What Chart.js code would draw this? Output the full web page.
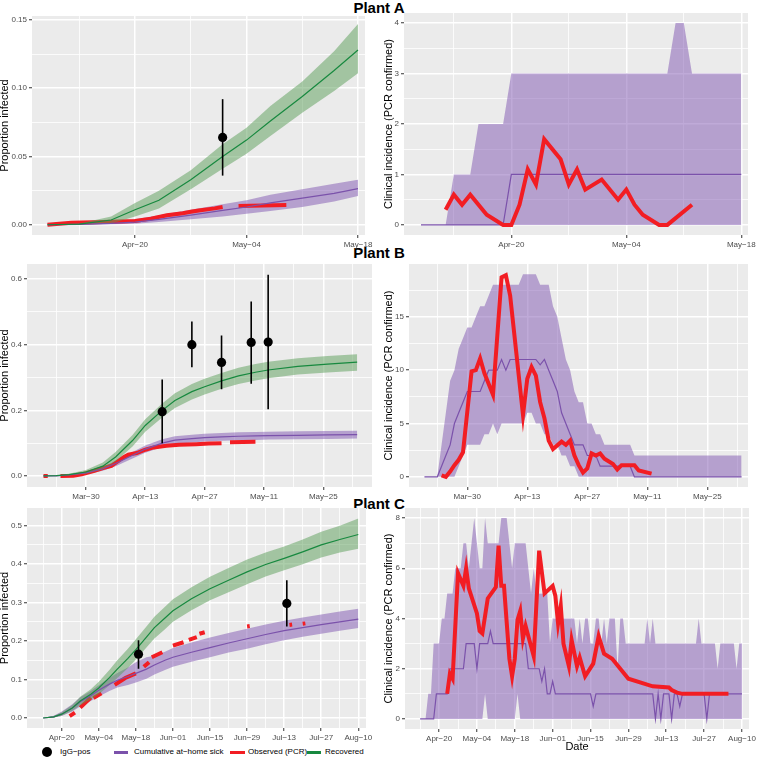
<!DOCTYPE html>
<html>
<head>
<meta charset="utf-8">
<script src="https://cdn.jsdelivr.net/npm/chart.js@4.4.1/dist/chart.umd.min.js"></script>
<style>
body { margin: 0; background: #fff; }
#fig { position: relative; width: 758px; height: 759px; font-family: "Liberation Sans", Arial, sans-serif; overflow: hidden; }
#fig canvas { position: absolute; }
.ptitle { position: absolute; left: 0; width: 758px; text-align: center; font-weight: bold; font-size: 15px; line-height: 15px; }
.lgt { position: absolute; top: 747px; height: 10px; line-height: 10px; font-size: 8px; color: #000; white-space: nowrap; }
.lgk { position: absolute; height: 3px; top: 751px; }
</style>
</head>
<body>
<div id="fig">
  <div class="ptitle" style="top:0px">Plant A</div>
  <div class="ptitle" style="top:245px">Plant B</div>
  <div class="ptitle" style="top:496px">Plant C</div>
  <canvas id="aCum"></canvas>
  <canvas id="aInc"></canvas>
  <canvas id="bCum"></canvas>
  <canvas id="bInc"></canvas>
  <canvas id="cCum"></canvas>
  <canvas id="cInc"></canvas>
  <div style="position:absolute;left:42px;top:747px;width:10px;height:10px;border-radius:50%;background:#000"></div>
  <div class="lgt" style="left:60px">IgG−pos</div>
  <div class="lgk" style="left:114px;width:14px;background:#7B52AB"></div>
  <div class="lgt" style="left:134px">Cumulative at−home sick</div>
  <div class="lgk" style="left:230px;width:15px;background:#F21D23"></div>
  <div class="lgt" style="left:248px">Observed (PCR)</div>
  <div class="lgk" style="left:307px;width:14px;background:#17893F"></div>
  <div class="lgt" style="left:325px">Recovered</div>
</div>
<script>
// ---------- Plant A ----------
const aCumDates = ['Apr-09','Apr-13','Apr-17','Apr-20','Apr-23','Apr-27','May-01','May-04','May-07','May-11','May-15','May-18'];
const aRecMed  = [0,0.0005,0.0035,0.011,0.018,0.033,0.050,0.062,0.076,0.094,0.113,0.128];
const aRecLo   = [0,0,0.001,0.006,0.012,0.026,0.041,0.052,0.065,0.082,0.098,0.111];
const aRecHi   = [0,0.001,0.006,0.016,0.025,0.040,0.059,0.071,0.087,0.105,0.127,0.147];
const aSickMed = [0,0.0003,0.001,0.002,0.004,0.007,0.0105,0.013,0.016,0.0195,0.023,0.0265];
const aSickLo  = [0,0,0.0003,0.0008,0.002,0.004,0.006,0.008,0.010,0.013,0.017,0.021];
const aSickHi  = [0,0.0005,0.002,0.004,0.007,0.011,0.015,0.018,0.022,0.026,0.030,0.033];
const aObsDates = ['Apr-09','Apr-12','Apr-16','Apr-20','Apr-22','Apr-24','Apr-26','Apr-27','Apr-28','Apr-30','May-01','May-02','May-03','May-09'];
const aObs      = [0,0.0015,0.002,0.0027,0.0045,0.007,0.0085,0.0095,0.0105,0.012,0.013,null,0.0137,0.0144];
const aIggDates = ['May-01'];
const aIgg = [0.064], aIggLo = [0.036], aIggHi = [0.092];

const aIncStart = 'Apr-09';
const aIncHi  = [0,0,0,0,1,1,1,2,2,2,2,3,3,3,3,3,3,3,3,3,3,3,3,3,3,3,3,3,3,3,3,4,4,3,3,3,3,3,3,3];
const aIncLo  = [0,0,0,0,0,0,0,0,0,0,0,0,0,0,0,0,0,0,0,0,0,0,0,0,0,0,0,0,0,0,0,0,0,0,0,0,0,0,0,0];
const aIncMed = [0,0,0,0,0,0,0,0,0,0,0,1,1,1,1,1,1,1,1,1,1,1,1,1,1,1,1,1,1,1,1,1,1,1,1,1,1,1,1,1];
const aPcrDates = ['Apr-12','Apr-13','Apr-14','Apr-15','Apr-17','Apr-19','Apr-20','Apr-21','Apr-22','Apr-23','Apr-24','Apr-26','Apr-27','Apr-28','Apr-29','May-01','May-03','May-04','May-05','May-06','May-08','May-09','May-12'];
const aPcr      = [0.3,0.6,0.4,0.6,0.2,0,0,0.4,1.1,0.8,1.7,1.3,0.8,1.1,0.7,0.9,0.5,0.7,0.4,0.2,0,0,0.4];

// ---------- Plant B ----------
const bCumDates = ['Mar-20','Mar-23','Mar-26','Mar-30','Apr-03','Apr-06','Apr-10','Apr-13','Apr-17','Apr-20','Apr-24','Apr-27','May-01','May-05','May-09','May-12','May-19','May-26','Jun-02'];
const bRecMed  = [0,0.001,0.004,0.012,0.030,0.058,0.108,0.154,0.200,0.230,0.257,0.272,0.290,0.305,0.316,0.323,0.334,0.341,0.347];
const bRecHi   = [0,0.002,0.007,0.018,0.041,0.073,0.125,0.173,0.221,0.252,0.280,0.296,0.314,0.330,0.341,0.348,0.359,0.366,0.371];
const bRecLo   = [0,0.0005,0.002,0.007,0.020,0.044,0.090,0.135,0.178,0.207,0.233,0.248,0.266,0.280,0.291,0.298,0.309,0.315,0.321];
const bSickMed = [0,0.0005,0.003,0.009,0.022,0.038,0.063,0.082,0.100,0.109,0.114,0.117,0.119,0.121,0.122,0.123,0.124,0.125,0.126];
const bSickHi  = [0,0.001,0.005,0.013,0.028,0.046,0.073,0.093,0.112,0.121,0.126,0.129,0.131,0.133,0.134,0.135,0.136,0.137,0.138];
const bSickLo  = [0,0,0.001,0.005,0.016,0.030,0.053,0.071,0.088,0.097,0.102,0.105,0.107,0.109,0.110,0.111,0.112,0.113,0.114];
const bObsDates = ['Mar-20','Mar-21','Mar-22','Mar-24','Mar-27','Mar-29','Apr-01','Apr-03','Apr-05','Apr-06','Apr-08','Apr-09','Apr-11','Apr-13','Apr-15','Apr-18','Apr-21','Apr-25','Apr-28','May-01','May-02','May-03','May-09'];
const bObs      = [0,0,null,0,0.001,0.005,0.016,0.024,0.031,0.040,0.058,0.065,0.070,0.080,0.087,0.092,0.095,0.097,0.099,0.100,null,0.103,0.104];
const bIggDates = ['Apr-17','Apr-24','May-01','May-08','May-12'];
const bIgg   = [0.196,0.400,0.346,0.407,0.408];
const bIggLo = [0.100,0.331,0.264,0.281,0.203];
const bIggHi = [0.294,0.471,0.428,0.532,0.613];

const bIncStart = 'Mar-20';
const bIncHi = [0,0,0,0,3,6,9,10,12,13,14,14,
  15,16,16,17,18,18,18,18,18,18,18,19,19,19,19,18,18,18,16,15,13,11,10,8,7,7,5,5,4,4,
  3,3,3,3,3,3,3,2,2,2,2,2,2,2,2,2,2,2,2,2,2,2,2,2,2,2,2,2,2,2,2,
  2,2];
const bIncLo = [0,0,0,0,0,0,0,0,1,2,3,3,
  3,3,4,4,5,4,5,5,5,5,5,5,6,6,5,5,4,4,3,3,2,2,1,1,0,0,0,0,0,0,
  0,0,0,0,0,0,0,0,0,0,0,0,0,0,0,0,0,0,0,0,0,0,0,0,0,0,0,0,0,0,0,
  0,0];
const bIncMed = [0,0,0,0,1,2,3,5,6,7,8,8,
  8,8,9,10,10,10,11,10,11,11,11,11,11,11,11,10.5,11,10,9,8,6,5,4,3,3,3,2,2,2,1,
  1,1,1,1,1,1,1,0,0,0,0,0,0,0,0,0,0,0,0,0,0,0,0,0,0,0,0,0,0,0,0,
  0,0];
const bPcrDates = ['Mar-24','Mar-25','Mar-26','Mar-27','Mar-28','Mar-29','Mar-31','Apr-01','Apr-02','Apr-03','Apr-05','Apr-07','Apr-08','Apr-09','Apr-12','Apr-13','Apr-14','Apr-15','Apr-16','Apr-17','Apr-18','Apr-19','Apr-21','Apr-22','Apr-23','Apr-24','Apr-25','Apr-26','Apr-27','Apr-28','Apr-29','Apr-30','May-01','May-03','May-04','May-05','May-08','May-09','May-12'];
const bPcr      = [0.15,0,0.5,1.1,1.6,2.3,9.9,10.0,11.1,9.7,7.7,18.7,18.9,17.0,5.8,9.2,10.3,9.5,7.0,5.5,3.4,2.6,3.3,3.0,3.4,2.0,1.1,0.4,0.8,2.2,2.0,2.2,1.7,1.2,0.7,1.1,1.1,0.6,0.3];

// ---------- Plant C ----------
const cCumDates = ['Apr-13','Apr-17','Apr-20','Apr-24','Apr-27','May-01','May-04','May-08','May-11','May-15','May-18','May-22','May-25','May-29','Jun-01','Jun-08','Jun-15','Jun-22','Jun-29','Jul-06','Jul-13','Jul-20','Jul-27','Aug-03','Aug-10'];
const cRecMed  = [0,0.003,0.010,0.026,0.044,0.062,0.078,0.105,0.127,0.155,0.178,0.210,0.235,0.260,0.279,0.310,0.336,0.358,0.380,0.399,0.415,0.432,0.450,0.464,0.477];
const cRecHi   = [0,0.005,0.015,0.034,0.055,0.075,0.094,0.125,0.150,0.180,0.205,0.238,0.263,0.289,0.309,0.340,0.367,0.390,0.412,0.430,0.446,0.464,0.484,0.500,0.519];
const cRecLo   = [0,0.001,0.006,0.019,0.033,0.049,0.062,0.085,0.104,0.130,0.152,0.183,0.207,0.231,0.250,0.280,0.306,0.327,0.348,0.368,0.384,0.400,0.417,0.430,0.440];
const cSickMed = [0,0.003,0.010,0.026,0.042,0.058,0.072,0.088,0.098,0.108,0.116,0.127,0.138,0.150,0.158,0.171,0.183,0.195,0.206,0.217,0.227,0.235,0.243,0.250,0.257];
const cSickHi  = [0,0.006,0.017,0.036,0.054,0.070,0.085,0.104,0.117,0.131,0.145,0.158,0.162,0.172,0.182,0.196,0.209,0.221,0.232,0.243,0.253,0.261,0.269,0.277,0.284];
const cSickLo  = [0,0.001,0.005,0.017,0.030,0.044,0.056,0.070,0.079,0.086,0.092,0.102,0.113,0.125,0.133,0.146,0.158,0.170,0.180,0.192,0.202,0.211,0.219,0.227,0.234];
const cObsDates = ['Apr-23','Apr-25','Apr-26','Apr-27','Apr-29','May-01','May-01','May-02','May-05','May-07','May-10','May-14','May-18','May-19','May-21','May-23','May-23','May-24','May-28','May-30','Jun-01','Jun-05','Jun-06','Jun-07','Jun-10','Jun-10','Jun-11','Jun-13','Jun-20','Jun-29','Jun-30','Jul-10','Jul-15','Jul-16','Jul-18','Jul-20','Jul-21'];
const cObs      = [0.005,0.014,null,0.027,0.040,0.053,null,0.052,0.064,null,0.086,0.104,0.116,null,0.133,0.145,null,0.158,0.171,null,0.188,0.197,null,0.203,0.210,null,0.219,0.223,null,0.238,0.239,null,0.242,0.243,null,0.245,0.246];
const cIggDates = ['May-19','Jul-14'];
const cIgg = [0.166,0.298], cIggLo = [0.128,0.238], cIggHi = [0.202,0.358];

const cIncStart = 'Apr-13';
const cIncHi = [0,0,0,1,1,3,3,3,4,4,5,5,5,6,6,6,7,7,
  6,7,8,7,6,6,8,7,7,7,7,7,8,8,8,7,6,7,7,7,7,7,6,5,6,5,5,5,5,5,3,
  4,4,4,4,4,4,4,4,4,3,4,3,4,4,3,3,4,4,3,4,3,4,4,4,2,4,4,3,3,3,
  3,3,3,3,3,4,3,4,3,3,3,3,3,3,3,3,3,3,3,3,3,3,3,3,4,3,3,3,3,3,3,
  2,3,3,3,3,3,3,2,3,3];
const cIncLo = [0,0,0,0,0,0,0,0,0,0,0,0,0,0,0,0,0,0,
  0,0,0,0,0,0,1,0,0,0,0,0,0,0,0,0,0,0,1,0,0,0,0,0,0,0,0,0,0,0,0,
  0,0,0,0,0,0,0,0,0,0,0,0,0,0,0,0,0,0,0,0,0,0,0,0,0,0,0,0,0,0,
  0,0,0,0,0,0,0,0,0,0,0,0,0,0,0,0,0,0,0,0,0,0,0,0,0,0,0,0,0,0,0,
  0,0,0,0,0,0,0,0,0,0];
const cIncMed = [0,0,0,0,0,0,1,1,1,1,1,2,2,2,2,2,2,3,
  3,3,3,2,3,3,3,3,3.5,3,3,3,3,3,3,3,3,3,3,3,3,3,2,2,2,2,2,1.5,2,1,1,
  1.5,1,1,1,1,1,1,1,1,1,1,1,1,1,1,0.5,1,1,1,1,1,1,1,1,1,1,1,1,1,1,
  1,1,1,1,1,1,1,1,0,1,0,1,1,1,0,1,1,0.5,1,1,1,1,1,1,1,1,1,0,1,1,1,
  1,1,1,1,1,1,1,1,1,1];
const cPcrDates = ['Apr-23','Apr-24','Apr-25','Apr-27','Apr-29','Apr-30','May-01','May-04','May-05','May-06','May-08','May-11','May-12','May-13','May-14','May-16','May-17','May-18','May-19','May-20','May-21','May-22','May-25','May-27','May-29','Jun-01','Jun-02','Jun-03','Jun-04','Jun-05','Jun-07','Jun-08','Jun-10','Jun-11','Jun-13','Jun-16','Jun-18','Jun-20','Jun-23','Jun-29','Jul-08','Jul-14','Jul-15','Jul-17','Jul-19','Aug-05'];
const cPcr      = [1.0,1.8,1.6,5.8,5.3,6.0,5.2,4.2,3.5,3.4,4.8,5.25,6.9,5.3,5.3,2.4,1.7,2.4,3.95,4.3,3.2,3.7,2.5,6.7,5.0,5.3,4.9,3.8,4.5,3.0,2.1,3.15,2.1,2.45,1.7,2.2,3.3,2.6,2.4,1.6,1.3,1.25,1.15,1.05,1.0,1.0];

// ---------- axis ticks ----------
const aMajor = ['Apr-20','May-04','May-18'], aMinor = ['Apr-13','Apr-27','May-11'];
const bMajor = ['Mar-30','Apr-13','Apr-27','May-11','May-25'], bMinor = ['Mar-23','Apr-06','Apr-20','May-04','May-18','Jun-01'];
const cMajor = ['Apr-20','May-04','May-18','Jun-01','Jun-15','Jun-29','Jul-13','Jul-27','Aug-10'];
const cMinor = ['Apr-13','Apr-27','May-11','May-25','Jun-08','Jun-22','Jul-06','Jul-20','Aug-03'];

const FONT = '"Liberation Sans", Arial, sans-serif';
const PURPLE = '#7B52AB', GREEN = '#17893F', RED = '#F21D23';
const PURPLE_FILL = 'rgba(128,86,178,0.5)', GREEN_FILL = 'rgba(90,158,88,0.5)';
const MON = ['Jan','Feb','Mar','Apr','May','Jun','Jul','Aug','Sep','Oct','Nov','Dec'];

function day(s) {
  var p = s.split('-');
  return Math.round(Date.UTC(2020, MON.indexOf(p[0]), +p[1]) / 864e5);
}
function dateLabel(v) {
  var d = new Date(v * 864e5);
  return MON[d.getUTCMonth()] + '\u2212' + String(d.getUTCDate()).padStart(2, '0');
}
function pts(dates, vals) { return dates.map((d, i) => ({x: day(d), y: vals[i]})); }
function daily(start, vals) { var s = day(start); return vals.map((v, i) => ({x: s + i, y: v})); }
function bars(dates, lo, hi) {
  var out = [];
  dates.forEach((d, i) => { out.push({x: day(d), y: lo[i]}, {x: day(d), y: hi[i]}, {x: day(d), y: null}); });
  return out;
}

const panelBg = {
  id: 'panelBg',
  beforeDraw(chart) {
    var a = chart.chartArea, ctx = chart.ctx;
    ctx.save();
    ctx.fillStyle = '#EBEBEB';
    ctx.fillRect(a.left, a.top, a.right - a.left, a.bottom - a.top);
    ctx.restore();
  }
};

function axis(kind, range, major, minor, fmt, size, title, titlePad) {
  var big = new Set(major);
  return {
    type: 'linear', min: range[0], max: range[1],
    afterBuildTicks: s => {
      s.ticks = major.concat(minor).sort((p, q) => p - q).map(v => ({value: v, big: big.has(v)}));
    },
    afterFit: s => {
      if (kind === 'x') { s.height = size; s.paddingLeft = 0; s.paddingRight = 0; }
      else { s.width = size; s.paddingTop = 0; s.paddingBottom = 0; }
    },
    ticks: {
      autoSkip: false, maxRotation: 0, minRotation: 0,
      padding: kind === 'x' ? 1.5 : 2,
      color: '#4D4D4D', font: {family: FONT, size: 8},
      callback: (v, i, t) => t[i].big ? fmt(v) : ''
    },
    grid: {
      color: '#FFFFFF',
      lineWidth: c => (c.tick && c.tick.big) ? 1.5 : 0.8,
      tickColor: c => (c.tick && c.tick.big) ? '#333333' : 'rgba(0,0,0,0)',
      tickLength: 3, tickWidth: 1
    },
    border: {display: false},
    title: title ? {display: true, text: title, color: '#000', font: {family: FONT, size: 11, lineHeight: 1}, padding: {top: titlePad, bottom: titlePad}} : {display: false}
  };
}

function ribbon(lo, hi, color, order) {
  return [
    {data: lo, borderColor: 'transparent', borderWidth: 0, pointRadius: 0, fill: false, order: order},
    {data: hi, borderColor: 'transparent', borderWidth: 0, pointRadius: 0, fill: '-1', backgroundColor: color, order: order}
  ];
}
function line(data, color, width, order) {
  return {data: data, borderColor: color, borderWidth: width, pointRadius: 0, fill: false, spanGaps: false, order: order};
}

function panel(id, colLeft, box, xr, xMajor, xMinor, yr, yMajor, yMinor, yFmt, yTitle, yPad, datasets, xTitle) {
  var top = box[1] - 6, xH = xTitle ? 24 : 15;
  var cv = document.getElementById(id);
  cv.width = box[2] - colLeft + 14;
  cv.height = box[3] - top + xH;
  cv.style.left = colLeft + 'px';
  cv.style.top = top + 'px';
  new Chart(cv, {
    type: 'line',
    data: {datasets: datasets},
    options: {
      responsive: false, animation: false, devicePixelRatio: 1,
      layout: {padding: {left: 0, top: 6, right: 14, bottom: 0}},
      plugins: {legend: {display: false}, tooltip: {enabled: false}},
      elements: {line: {tension: 0}, point: {radius: 0}},
      scales: {
        x: axis('x', xr, xMajor.map(day), xMinor.map(day), dateLabel, xH, xTitle, 0.5),
        y: axis('y', yr, yMajor, yMinor, yFmt, box[0] - colLeft, yTitle, yPad)
      }
    },
    plugins: [panelBg]
  });
}

function cumSets(dates, sMed, sLo, sHi, rMed, rLo, rHi, obsDates, obs, iggDates, igg, iggLo, iggHi) {
  return [].concat(
    ribbon(pts(dates, sLo), pts(dates, sHi), PURPLE_FILL, 10),
    [line(pts(obsDates, obs), RED, 4, 9)],
    ribbon(pts(dates, rLo), pts(dates, rHi), GREEN_FILL, 8),
    [line(pts(dates, sMed), PURPLE, 1.2, 7),
     line(pts(dates, rMed), GREEN, 1.2, 6),
     line(bars(iggDates, iggLo, iggHi), '#000000', 1.6, 5),
     {data: pts(iggDates, igg), showLine: false, pointRadius: 4.6, pointBackgroundColor: '#000', pointBorderColor: '#000', pointBorderWidth: 0, order: 4}]
  );
}
function incSets(start, lo, hi, med, pcrDates, pcr) {
  return [].concat(
    ribbon(daily(start, lo), daily(start, hi), PURPLE_FILL, 5),
    [line(daily(start, med), PURPLE, 1.2, 3),
     line(pts(pcrDates, pcr), RED, 4, 2)]
  );
}

const f2 = v => v.toFixed(2), f1 = v => v.toFixed(1), f0 = v => String(v);
const leftTitle = 'Proportion infected', rightTitle = 'Clinical incidence (PCR confirmed)';

panel('aCum', 0, [32, 16, 365, 235], [day('Apr-07') + 0.06, day('May-18') + 0.88], aMajor, aMinor,
  [-0.0075, 0.1529], [0, 0.05, 0.10, 0.15], [0.025, 0.075, 0.125], f2, leftTitle, -0.5,
  cumSets(aCumDates, aSickMed, aSickLo, aSickHi, aRecMed, aRecLo, aRecHi, aObsDates, aObs, aIggDates, aIgg, aIggLo, aIggHi));
panel('aInc', 378, [404, 13, 748, 235], [day('Apr-07') - 0.07, day('May-18') + 0.82], aMajor, aMinor,
  [-0.2, 4.2], [0, 1, 2, 3, 4], [0.5, 1.5, 2.5, 3.5], f0, rightTitle, 5,
  incSets(aIncStart, aIncLo, aIncHi, aIncMed, aPcrDates, aPcr));

panel('bCum', 0, [27, 264, 372, 487], [day('Mar-16') + 0.1, day('Jun-05') + 0.5], bMajor, bMinor,
  [-0.0336, 0.646], [0, 0.2, 0.4, 0.6], [0.1, 0.3, 0.5], f1, leftTitle, -0.5,
  cumSets(bCumDates, bSickMed, bSickLo, bSickHi, bRecMed, bRecLo, bRecHi, bObsDates, bObs, bIggDates, bIgg, bIggLo, bIggHi));
panel('bInc', 378, [409, 264, 748, 487], [day('Mar-16') + 0.4, day('Jun-03') + 0.5], bMajor, bMinor,
  [-0.95, 19.95], [0, 5, 10, 15], [2.5, 7.5, 12.5, 17.5], f0, rightTitle, 5,
  incSets(bIncStart, bIncLo, bIncHi, bIncMed, bPcrDates, bPcr));

panel('cCum', 0, [27, 508, 366, 728], [day('Apr-06') + 0.9, day('Aug-12') + 0.9], cMajor, cMinor,
  [-0.026, 0.546], [0, 0.1, 0.2, 0.3, 0.4, 0.5], [0.05, 0.15, 0.25, 0.35, 0.45], f1, leftTitle, -0.5,
  cumSets(cCumDates, cSickMed, cSickLo, cSickHi, cRecMed, cRecLo, cRecHi, cObsDates, cObs, cIggDates, cIgg, cIggLo, cIggHi));
panel('cInc', 378, [405, 508, 749, 729], [day('Apr-07') + 0.4, day('Aug-12') + 0.6], cMajor, cMinor,
  [-0.4, 8.4], [0, 2, 4, 6, 8], [1, 3, 5, 7], f0, rightTitle, 5,
  incSets(cIncStart, cIncLo, cIncHi, cIncMed, cPcrDates, cPcr), 'Date');
</script>
</body>
</html>
